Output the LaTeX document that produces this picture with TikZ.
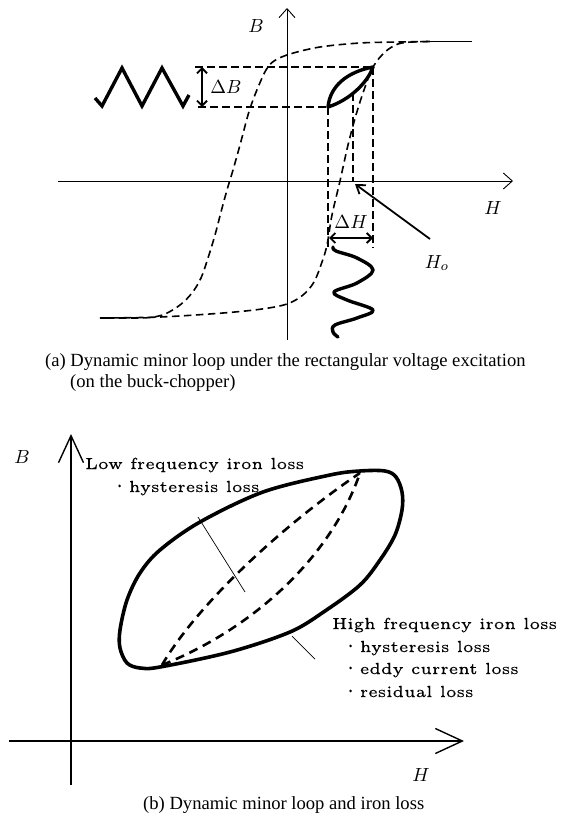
\documentclass[tikz,border=0pt]{standalone}
\usepackage{fontspec}
\usepackage{graphicx}
\newfontfamily\capfont{Liberation Serif}
\newfontfamily\labfont[FakeBold=0.6]{lmroman5-regular.otf}
\usetikzlibrary{arrows.meta}
\newlength\refw
\AtBeginDocument{%
  \settowidth{\refw}{\labfont\fontsize{5}{6}\selectfont Low frequency iron loss}%
  \pgfmathsetmacro\lsx{219/\refw}%
  \pgfmathsetmacro\lsy{3.2}}
\newcommand\lab[1]{\scalebox{\lsx}[\lsy]{\labfont\fontsize{5}{6}\selectfont #1}}
\newcommand\dotb{\raisebox{1.3pt}{\scalebox{0.55}{\textbullet}}\hspace{1.6pt}}
\newcommand\mlab[1]{\scalebox{1.9}{\fontsize{10}{12}\selectfont $#1$}}
\begin{document}
\begin{tikzpicture}[x=1pt,y=-1pt,
  dsh/.style={dash pattern=on 7.5pt off 4.5pt, line width=1.6pt},
  dshb/.style={dash pattern=on 9pt off 6pt, line width=2.6pt},
  axisA/.style={line width=0.9pt, -{Straight Barb[length=9pt,width=16pt]}},
  axisB/.style={line width=1.4pt, -{Straight Barb[length=27pt,width=25pt]}},
  dimarr/.style={line width=1.8pt, {Straight Barb[length=5pt,width=10pt]}-{Straight Barb[length=5pt,width=10pt]}},
  ptr/.style={line width=1.8pt, -{Straight Barb[length=8pt,width=11pt]}},
  thickc/.style={line width=3.4pt, line join=round, line cap=round},
  leader/.style={line width=0.7pt},
  captxt/.style={anchor=base west, inner sep=0pt, font=\capfont\fontsize{18.6}{22}\selectfont},
  txt/.style={anchor=base west, inner sep=0pt},
  mth/.style={inner sep=0pt}]
\useasboundingbox (0,0) rectangle (560,830);

% ---------------- (a) ----------------
\coordinate (aHl) at (58,181);
\coordinate (aHr) at (513,181);
\coordinate (aBb) at (287,340);
\coordinate (aBt) at (287,8);
\draw[axisA] (aHl) -- (aHr);
\draw[axisA] (aBb) -- (aBt);
\node[mth] (aB) at (256,26) {\mlab{B}};
\node[mth] (aH) at (493,208) {\mlab{H}};

% major loop
\draw[dsh] plot[smooth, tension=0.55] coordinates {(100,318) (160,317) (223,313) (262,309) (287,304) (303,295) (314,282) (322,262) (327,245) (332,215) (340,181) (348,145) (356,115) (364,90) (373,67) (385,52) (398,44) (412,42) (430,41.5)};
\draw[dsh] plot[smooth, tension=0.55] coordinates {(430,41.5) (400,42) (360,43) (320,47) (290,54) (274,61) (266,70) (259,85) (253,100) (248,115) (240,145) (233,170) (227,190) (221,212) (215,235) (208,258) (201,278) (192,293) (180,305) (165,314) (150,317.5) (130,318) (100,318)};
\coordinate (sat1) at (428,41.5);
\coordinate (sat2) at (472,41.5);
\draw[line width=1.6pt] (sat1) -- (sat2);

% minor loop
\coordinate (mlo) at (328,107);
\coordinate (mhi) at (373,67);
\draw[thickc] (mlo) .. controls (330,86) and (347,72) .. (mhi) .. controls (368,82) and (350,100) .. (mlo);

% projection lines
\coordinate (dBt) at (195,67);
\coordinate (dBb) at (198,107);
\draw[dsh] (dBt) -- (mhi);
\draw[dsh] (dBb) -- (mlo);
\coordinate (vLb) at (328,248);
\coordinate (vRb) at (373,248);
\draw[dsh] (mlo) -- (vLb);
\draw[dsh] (mhi) -- (vRb);
\coordinate (vMt) at (353,93);
\coordinate (vMb) at (353,181);
\draw[dsh] (vMt) -- (vMb);

% Delta B
\coordinate (dBa1) at (202,67);
\coordinate (dBa2) at (202,107);
\draw[dimarr] (dBa1) -- (dBa2);
\node[mth] (lDB) at (226,87) {\mlab{\Delta B}};

% Delta H
\coordinate (dHa1) at (329,238);
\coordinate (dHa2) at (373,238);
\draw[dimarr] (dHa1) -- (dHa2);
\node[mth] (lDH) at (351,222) {\mlab{\Delta H}};

% H_o
\coordinate (hoS) at (430,239);
\coordinate (hoE) at (355,184);
\draw[ptr] (hoS) -- (hoE);
\node[mth] (lHo) at (437,263) {\mlab{H_o}};

% triangle wave (voltage)
\draw[line width=3.4pt, line join=miter] (95,98) -- (102,106) -- (122,68) -- (142,106) -- (162,68) -- (183,106) -- (189,95);

% current waveform
\draw[thickc] plot[smooth, tension=0.6] coordinates {(333,247) (336,251) (357,258) (373,270) (357,283) (334,292) (347,300) (373,310) (357,318) (335,325) (333,332) (338,337)};

% caption (a)
\node[captxt] (capa1) at (45,366) {(a) Dynamic minor loop under the rectangular voltage excitation};
\node[captxt] (capa2) at (70,387) {(on the buck-chopper)};

% ---------------- (b) ----------------
\coordinate (bHl) at (9,741);
\coordinate (bHr) at (464,741);
\coordinate (bBb) at (71,785);
\coordinate (bBt) at (71,434);
\draw[axisB] (bHl) -- (bHr);
\draw[axisB] (bBb) -- (bBt);
\node[mth] (bB) at (22,457) {\mlab{B}};
\node[mth] (bH) at (421,775) {\mlab{H}};

% outer loop
\draw[line width=3.6pt, line join=round] plot[smooth cycle, tension=0.55] coordinates {(160,667) (140,668) (127,663) (120,648) (120,630) (127,600) (140,573) (160,550) (200,522) (263,492) (330,475) (360,471) (385,471) (396,477) (402,492) (402,510) (395,535) (380,560) (360,585) (325,611) (290,632) (230,652)};

% inner dashed loops
\coordinate (ilo) at (162,665);
\coordinate (ihi) at (360,473);
\draw[dshb] (ilo) .. controls (200,600) and (290,520) .. (ihi);
\draw[dshb] (ilo) .. controls (250,630) and (330,560) .. (ihi);

% leaders
\coordinate (l1a) at (198,517);
\coordinate (l1b) at (245,592);
\coordinate (l2a) at (292,636);
\coordinate (l2b) at (315,659);
\draw[leader] (l1a) -- (l1b);
\draw[leader] (l2a) -- (l2b);

% texts
\node[txt] (t1) at (85,469) {\lab{Low frequency iron loss}};
\node[txt] (t2) at (115,492) {\lab{\dotb hysteresis loss}};
\node[txt] (t3) at (332,629) {\lab{High frequency iron loss}};
\node[txt] (t4) at (346,652) {\lab{\dotb hysteresis loss}};
\node[txt] (t5) at (346,674) {\lab{\dotb eddy current loss}};
\node[txt] (t6) at (346,697) {\lab{\dotb residual loss}};

% caption (b)
\node[captxt] (capb) at (143,809) {(b) Dynamic minor loop and iron loss};
\end{tikzpicture}
\end{document}
